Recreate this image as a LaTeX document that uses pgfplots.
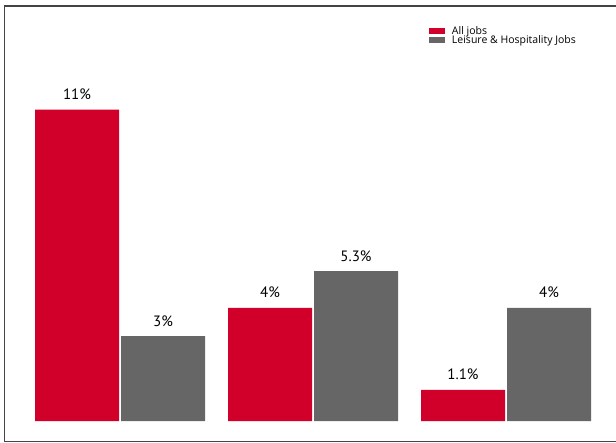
\documentclass[border=0pt]{standalone}
\usepackage{fontspec}
\setmainfont{PT Sans}
\newfontfamily\legendfont{Open Sans}
\usepackage{pgfplots}
\pgfplotsset{compat=1.18}
\definecolor{jobred}{HTML}{D0002B}
\definecolor{jobgray}{HTML}{666666}
\definecolor{frame}{HTML}{444444}

\begin{document}
\begin{tikzpicture}[x=1pt,y=1pt]
\useasboundingbox (0,0) rectangle (616,443);
\begin{axis}[
    at={(0,0)}, anchor=south west,
    scale only axis,
    width=616pt, height=443pt,
    xmin=-0.6218, xmax=2.5699,
    ymin=-0.777, ymax=14.876,
    hide axis,
    ybar=0pt,
    bar width=84pt,
    nodes near coords,
    point meta=explicit symbolic,
    every node near coord/.append style={font=\fontsize{15}{15}\selectfont, text=black,
        anchor=base, inner sep=0pt, yshift=10pt},
    legend style={at={(axis description cs:0.6969,0.9380)}, anchor=north west,
        draw=none, fill=none, font=\legendfont\fontsize{10.5}{10.5}\selectfont,
        inner sep=0pt, row sep=0pt, column sep=6.5pt,
        nodes={inner sep=0pt, text height=6.8pt, text depth=2.2pt, anchor=base west}},
    legend cell align=left,
    legend image code/.code={\fill[#1] (0pt,0.6pt) rectangle (16pt,6.6pt);},
]
\addplot[fill=jobred, draw=none, bar shift=-43pt] coordinates {
    (0,11) [11\%]
    (1,4) [4\%]
    (2,1.1) [1.1\%]
};
\addplot[fill=jobgray, draw=none, bar shift=43pt] coordinates {
    (0,3) [3\%]
    (1,5.3) [5.3\%]
    (2,4) [4\%]
};
\legend{All jobs, Leisure \& Hospitality Jobs}
\end{axis}
\draw[frame, line width=1.6pt] (616,437) -- (4.5,437) -- (4.5,1.5) -- (616,1.5);
\end{tikzpicture}
\end{document}
